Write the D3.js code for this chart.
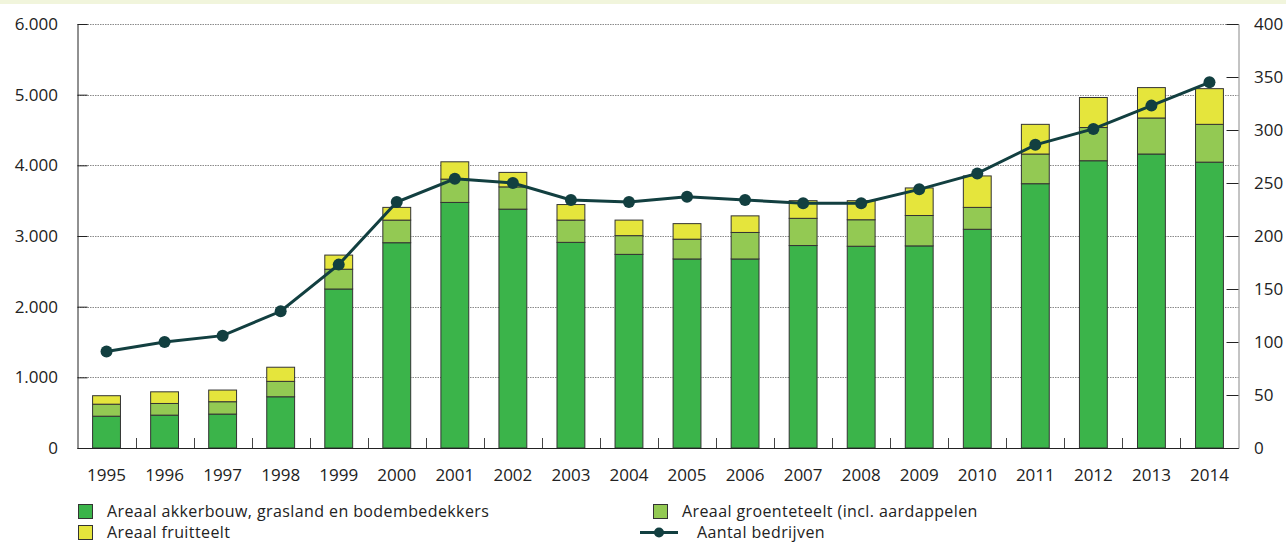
<!DOCTYPE html>
<html><head><meta charset="utf-8">
<script src="https://cdn.jsdelivr.net/npm/d3@7"></script>
<style>
html,body{margin:0;padding:0;background:#fff;}
svg{display:block;font-family:"Open Sans",sans-serif;}
</style></head>
<body>
<svg id="chart" width="1286" height="543"></svg>
<script>
const years = ["1995","1996","1997","1998","1999","2000","2001","2002","2003","2004","2005","2006","2007","2008","2009","2010","2011","2012","2013","2014"];
const akkerbouw = [450,465,480,725,2250,2905,3475,3380,2910,2740,2675,2675,2865,2855,2860,3095,3740,4065,4160,4045];
const groenteteelt = [170,165,175,218,280,320,330,315,315,265,280,375,385,375,430,310,420,470,510,535];
const fruitteelt = [120,165,165,200,200,180,245,205,220,220,220,235,250,270,390,445,420,425,430,505];
const bedrijven = [91,100,106,129,173,232,254,250,234,232,237,234,231,231,244,259,286,301,323,345];
const leftTicks = [0,1000,2000,3000,4000,5000,6000];
const rightTicks = [0,50,100,150,200,250,300,350,400];
const seriesNames = ["Areaal akkerbouw, grasland en bodembedekkers","Areaal groenteteelt (incl. aardappelen","Areaal fruitteelt","Aantal bedrijven"];
const colors = ["#3bb44a","#93c953","#e5e53c"];
const lineColor = "#123f40";

const svg = d3.select("#chart");
const L = 77.5, R = 1238.5, T = 24, B = 448;
const fmt = d => d3.format(",")(d).replace(/,/g,".");

svg.append("rect").attr("x",0).attr("y",0).attr("width",1286).attr("height",4).attr("fill","#f1f5dc");

const x = d3.scaleBand().domain(years).range([L,R]).paddingInner(0.52).paddingOuter(0.26);
const xb = d3.scaleBand().domain(years).range([L,R]);
const y = d3.scaleLinear().domain([0,6000]).range([B,T]);
const y2 = d3.scaleLinear().domain([0,400]).range([B,T]);

// gridlines
svg.append("g").selectAll("line").data(leftTicks.filter(d=>d>0)).join("line")
  .attr("x1",L).attr("x2",R).attr("y1",d=>Math.round(y(d))+0.5).attr("y2",d=>Math.round(y(d))+0.5)
  .attr("stroke","#8a8a8a").attr("stroke-width",1).attr("stroke-dasharray","1.5,1");

// stacked bars
const data = years.map((yr,i)=>({year:yr, a:akkerbouw[i], g:groenteteelt[i], f:fruitteelt[i]}));
const stack = d3.stack().keys(["a","g","f"])(data);
svg.append("g").selectAll("g").data(stack).join("g").attr("fill",(d,i)=>colors[i])
  .selectAll("rect").data(d=>d).join("rect")
  .attr("x",d=>x(d.data.year)).attr("width",x.bandwidth())
  .attr("y",d=>y(d[1])).attr("height",d=>y(d[0])-y(d[1]))
  .attr("stroke","#333").attr("stroke-width",1);

// left axis
const gl = svg.append("g").attr("transform",`translate(${L},0)`)
  .call(d3.axisRight(y).tickValues(leftTicks).tickSize(10).tickFormat(""));
gl.select(".domain").attr("stroke","#222");
gl.selectAll(".tick line").attr("stroke","#222");
svg.append("g").selectAll("text").data(leftTicks).join("text")
  .attr("x",58).attr("y",d=>y(d)).attr("dy","0.35em").attr("text-anchor","end")
  .attr("font-size",17).attr("fill","#222").text(fmt);

// right axis
const gr = svg.append("g").attr("transform",`translate(${R},0)`)
  .call(d3.axisLeft(y2).tickValues(rightTicks).tickSize(12).tickFormat(""));
gr.select(".domain").attr("stroke","#888");
gr.selectAll(".tick line").attr("stroke","#222");
svg.append("g").selectAll("text").data(rightTicks).join("text")
  .attr("x",1254).attr("y",d=>y2(d)).attr("dy","0.35em").attr("text-anchor","start")
  .attr("font-size",17).attr("fill","#222").text(d=>d);

// bottom axis
const gb = svg.append("g").attr("transform",`translate(0,${B})`);
gb.append("line").attr("x1",L).attr("x2",R).attr("y1",0.5).attr("y2",0.5).attr("stroke","#222");
gb.selectAll("line.tk").data(years.slice(1)).join("line").attr("class","tk")
  .attr("x1",d=>Math.round(xb(d))+0.5).attr("x2",d=>Math.round(xb(d))+0.5)
  .attr("y1",0).attr("y2",-10).attr("stroke","#444");
gb.selectAll("text").data(years).join("text")
  .attr("x",d=>xb(d)+xb.bandwidth()/2).attr("y",27).attr("dy","0.35em")
  .attr("text-anchor","middle").attr("font-size",17).attr("fill","#222").text(d=>d);

// line
const cx = i => xb(years[i])+xb.bandwidth()/2;
svg.append("path").datum(bedrijven)
  .attr("d",d3.line().x((d,i)=>cx(i)).y(d=>y2(d)))
  .attr("fill","none").attr("stroke",lineColor).attr("stroke-width",3);
svg.append("g").selectAll("circle").data(bedrijven).join("circle")
  .attr("cx",(d,i)=>cx(i)).attr("cy",d=>y2(d)).attr("r",6).attr("fill",lineColor);

// legend
const leg = svg.append("g").attr("font-size",16).attr("letter-spacing","0.4px").attr("fill","#222");
const items = [
  {x:78,y:511,type:"rect",c:colors[0],t:seriesNames[0]},
  {x:78,y:532,type:"rect",c:colors[2],t:seriesNames[2]},
  {x:653,y:511,type:"rect",c:colors[1],t:seriesNames[1]},
  {x:653,y:532,type:"line",c:lineColor,t:seriesNames[3]}
];
items.forEach(it=>{
  if(it.type==="rect"){
    leg.append("rect").attr("x",it.x+0.5).attr("y",it.y-6.5).attr("width",14).attr("height",14)
      .attr("fill",it.c).attr("stroke","#333");
  } else {
    leg.append("line").attr("x1",640).attr("x2",678).attr("y1",it.y+0.5).attr("y2",it.y+0.5)
      .attr("stroke",it.c).attr("stroke-width",3);
    leg.append("circle").attr("cx",659).attr("cy",it.y+0.5).attr("r",5).attr("fill",it.c);
  }
  leg.append("text").attr("x",it.type==="rect"? it.x+29 : 697).attr("y",it.y).attr("dy","0.35em").text(it.t);
});
</script>
</body></html>
